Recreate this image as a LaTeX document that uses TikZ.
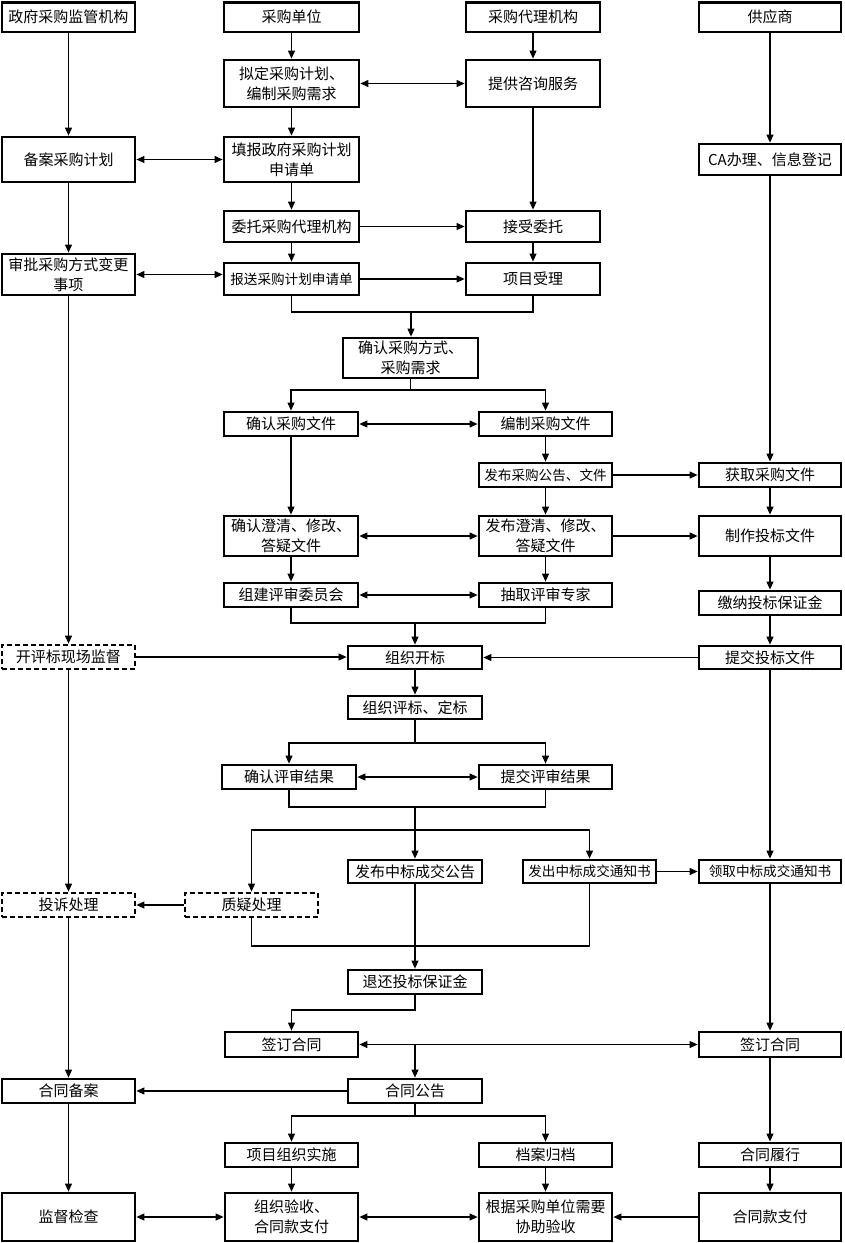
\documentclass[tikz,border=0pt]{standalone}
\usepackage{fontspec}
\newfontfamily\cjk{Noto Sans CJK SC}
\usetikzlibrary{arrows.meta}
\tikzset{
  box/.style={draw, line width=2.8pt, rectangle, inner sep=0.5pt, align=center,
    font=\cjk\fontsize{15}{20}\selectfont},
  dbox/.style={box, dash pattern=on 5pt off 3pt},
  nine/.style={font=\cjk\fontsize{13.6}{20}\selectfont},
  conn/.style={line width=1.1pt},
  arr/.style={conn, -{Triangle[length=8pt,width=7pt]}},
  darr/.style={conn, {Triangle[length=8pt,width=7pt]}-{Triangle[length=8pt,width=7pt]}}
}
\newcommand{\bx}[7][box]{% style, name, x1, x2, y1, y2, text
  \pgfmathsetmacro{\cxx}{(#3+#4)/2}\pgfmathsetmacro{\cyy}{(#5+#6)/2}%
  \pgfmathsetmacro{\ww}{#4-#3}\pgfmathsetmacro{\hh}{#6-#5}%
  \node[#1, minimum width=\ww pt, minimum height=\hh pt] (#2) at (\cxx,\cyy) {#7};}
\begin{document}
\begin{tikzpicture}[x=1pt,y=-1pt]
\fill[white] (0,0) rectangle (844,1243);
\useasboundingbox (0,0) rectangle (844,1243);
% column 1
\bx{gov}{2}{135}{2.5}{32}{政府采购监管机构}
\bx{filing}{2}{135}{137}{182}{备案采购计划}
\bx{approve}{2}{135}{254}{295}{审批采购方式变更\\事项}
\bx[dbox]{onsite}{2}{135}{645}{669}{开评标现场监督}
\bx[dbox]{complaint}{2}{135}{893}{917}{投诉处理}
\bx{contractFile}{2}{135}{1079}{1103}{合同备案}
\bx{inspect}{2}{135}{1193}{1241}{监督检查}
% column 2
\bx{unit}{224}{359}{2.5}{32}{采购单位}
\bx{plan}{224}{359}{60}{107}{拟定采购计划、\\编制采购需求}
\bx{fill}{224}{359}{137}{182}{填报政府采购计划\\申请单}
\bx{entrust}{224}{359}{211}{242}{委托采购代理机构}
\bx[box,nine]{submitplan}{224}{359}{263}{295}{报送采购计划申请单}
\bx{confirmDoc}{224}{358}{412}{436}{确认采购文件}
\bx{confirmClar}{224}{358}{516}{556}{确认澄清、修改、\\答疑文件}
\bx{form}{224}{358}{583}{607}{组建评审委员会}
\bx{confirmRes}{222}{356}{765}{789}{确认评审结果}
\bx[dbox]{query}{185}{318}{893}{917}{质疑处理}
\bx{signL}{225}{358}{1032}{1057}{签订合同}
\bx{implement}{225}{358}{1143}{1167}{项目组织实施}
\bx{acceptance}{225}{358}{1193}{1241}{组织验收、\\合同款支付}
% middle
\bx{confirmMethod}{343}{478}{338}{378}{确认采购方式、\\采购需求}
\bx{open}{348}{482}{646}{669}{组织开标}
\bx{evaluate}{348}{482}{696}{719}{组织评标、定标}
\bx{announce}{348}{482}{860}{883}{发布中标成交公告}
\bx{refund}{348}{482}{970}{994}{退还投标保证金}
\bx{contractAnn}{348}{482}{1079}{1103}{合同公告}
% column 3
\bx{agency}{466}{600}{2.5}{32}{采购代理机构}
\bx{consult}{466}{600}{60}{107}{提供咨询服务}
\bx{accept}{466}{600}{211}{242}{接受委托}
\bx{project}{466}{600}{263}{295}{项目受理}
\bx{compile}{479}{612}{412}{436}{编制采购文件}
\bx[box,nine]{publish}{479}{612}{463}{487}{发布采购公告、文件}
\bx{pubClar}{479}{612}{516}{556}{发布澄清、修改、\\答疑文件}
\bx{extract}{479}{612}{583}{607}{抽取评审专家}
\bx{submitRes}{479}{612}{765}{789}{提交评审结果}
\bx[box,nine]{notice}{523}{656}{860}{883}{发出中标成交通知书}
\bx{archive}{479}{612}{1143}{1167}{档案归档}
\bx{assist}{479}{612}{1193}{1241}{根据采购单位需要\\协助验收}
% column 4
\bx{supp}{699}{841}{2.5}{32}{供应商}
\bx{ca}{699}{841}{144}{175}{CA办理、信息登记}
\bx{obtain}{699}{841}{463}{487}{获取采购文件}
\bx{make}{699}{841}{516}{556}{制作投标文件}
\bx{deposit}{699}{841}{591}{615}{缴纳投标保证金}
\bx{submitBid}{699}{841}{646}{669}{提交投标文件}
\bx[box,nine]{receive}{699}{841}{860}{883}{领取中标成交通知书}
\bx{signR}{699}{841}{1032}{1057}{签订合同}
\bx{perform}{699}{841}{1143}{1167}{合同履行}
\bx{pay}{699}{841}{1193}{1241}{合同款支付}
% vertical chains
\foreach \a/\b in {gov/filing,filing/approve,approve/onsite,onsite/complaint,complaint/contractFile,contractFile/inspect,
  unit/plan,plan/fill,fill/entrust,entrust/submitplan,confirmDoc/confirmClar,confirmClar/form,
  agency/consult,consult/accept,accept/project,compile/publish,publish/pubClar,pubClar/extract,
  supp/ca,ca/obtain,obtain/make,make/deposit,deposit/submitBid,submitBid/receive,receive/signR,signR/perform,perform/pay,
  open/evaluate,implement/acceptance,archive/assist}
  \draw[arr] (\a.south) -- (\a.south |- \b.north);
% horizontal links
\draw[darr] (plan.east) -- (consult.west);
\draw[darr] (filing.east) -- (fill.west);
\draw[arr] (entrust.east) -- (accept.west);
\draw[darr] (approve.east) -- (approve.east -| submitplan.west);
\draw[arr] (submitplan.east) -- (project.west);
\draw[darr] (confirmDoc.east) -- (compile.west);
\draw[arr] (publish.east) -- (obtain.west);
\draw[darr] (confirmClar.east) -- (pubClar.west);
\draw[arr] (pubClar.east) -- (make.west);
\draw[darr] (form.east) -- (extract.west);
\draw[arr] (onsite.east) -- (onsite.east -| open.west);
\draw[arr] (submitBid.west) -- (submitBid.west -| open.east);
\draw[darr] (confirmRes.east) -- (submitRes.west);
\draw[arr] (notice.east) -- (receive.west);
\draw[arr] (query.west) -- (complaint.east);
\draw[darr] (signL.east) -- (signR.west);
\draw[arr] (contractAnn.west) -- (contractFile.east);
\draw[darr] (inspect.east) -- (acceptance.west);
\draw[darr] (acceptance.east) -- (assist.west);
\draw[arr] (pay.west) -- (assist.east);
% merges and splits
\coordinate (m1) at (411,312);
\draw[conn] (submitplan.south) |- (m1) -| (project.south);
\draw[arr] (m1) -- (m1 |- confirmMethod.north);
\coordinate (s1) at (410.5,390);
\draw[conn] (confirmMethod.south) -- (s1);
\draw[arr] (s1) -| (confirmDoc.north);
\draw[arr] (s1) -| (compile.north);
\coordinate (m2) at (415,623);
\draw[conn] (form.south) |- (m2) -| (extract.south);
\draw[arr] (m2) -- (open.north);
\coordinate (s2) at (415,743);
\draw[conn] (evaluate.south) -- (s2);
\draw[arr] (s2) -| (confirmRes.north);
\draw[arr] (s2) -| (submitRes.north);
\coordinate (m3) at (415,807);
\draw[conn] (confirmRes.south) |- (m3) -| (submitRes.south);
\draw[arr] (m3) -- (announce.north);
\coordinate (d1) at (415,830);
\draw[arr] (d1) -| (query.north);
\draw[arr] (d1) -| (notice.north);
\coordinate (m4) at (415,946);
\draw[conn] (query.south) |- (m4) -| (notice.south);
\draw[arr] (announce.south) -- (refund.north);
\coordinate (b1) at (415,1010);
\draw[arr] (refund.south) -- (b1) -| (signL.north);
\coordinate (j1) at (415,1044.5);
\draw[arr] (j1) -- (contractAnn.north);
\coordinate (s3) at (415,1116);
\draw[conn] (contractAnn.south) -- (s3);
\draw[arr] (s3) -| (implement.north);
\draw[arr] (s3) -| (archive.north);
\end{tikzpicture}
\end{document}
